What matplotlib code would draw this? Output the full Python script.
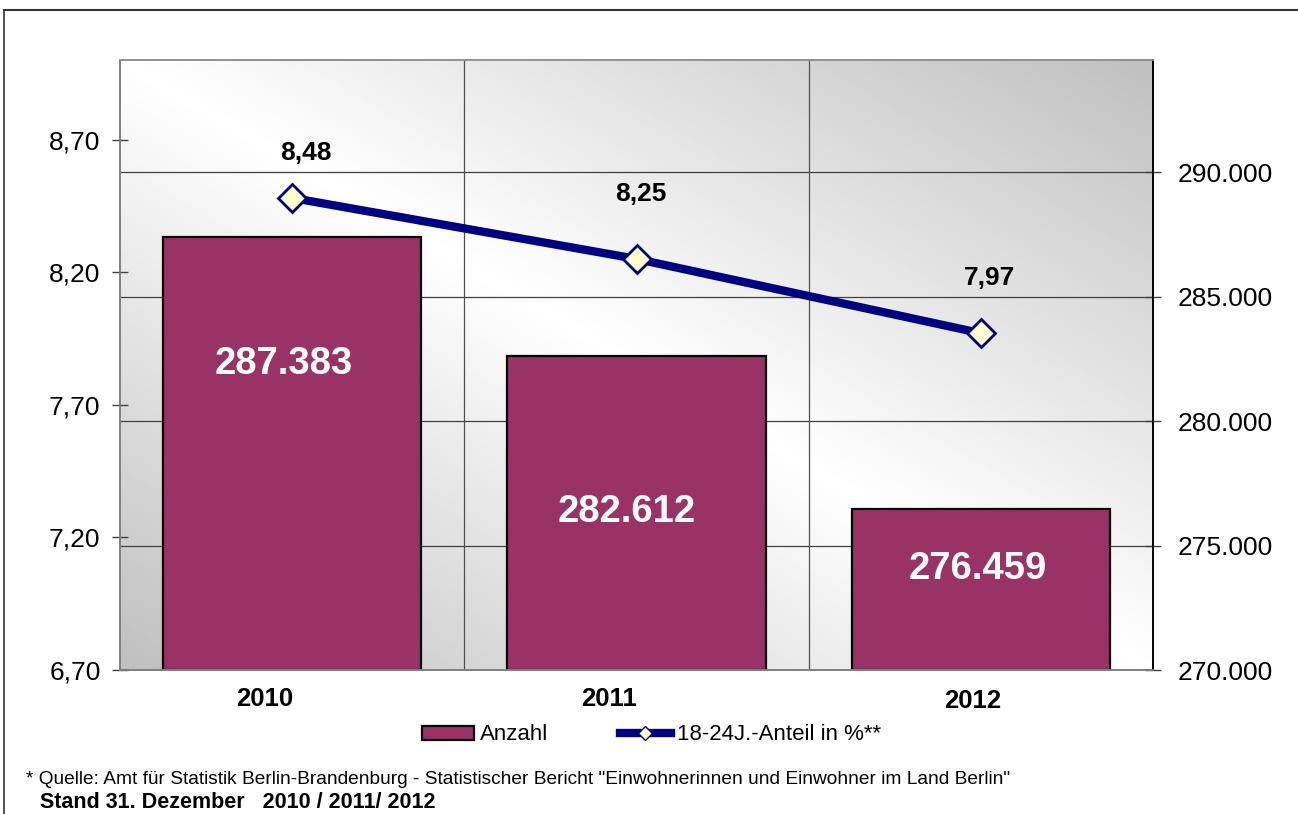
import matplotlib
matplotlib.use("Agg")
import matplotlib.pyplot as plt
import matplotlib.transforms as mtransforms
import numpy as np
from matplotlib.lines import Line2D
from matplotlib.patches import Patch

plt.rcParams["font.family"] = ["Liberation Sans", "DejaVu Sans"]

YEARS = ["2010", "2011", "2012"]
ANZAHL = [287383, 282612, 276459]
ANTEIL = [8.48, 8.25, 7.97]

LEFT_TICKS = [6.70, 7.20, 7.70, 8.20, 8.70]
RIGHT_TICKS = [270000, 275000, 280000, 285000, 290000]

BAR_COLOR = "#993366"
LINE_COLOR = "#000080"
MARKER_FACE = "#FFFFCC"

# where the white numbers sit inside each bar (fraction of bar height, x shift in pt)
BAR_LABEL_FRAC = [0.706, 0.503, 0.625]
BAR_LABEL_DX = [-6, -7, -2]
# offsets of the line labels from the markers (points)
LINE_LABEL_DX = [10, 3, 6]
LINE_LABEL_DY = [32, 47, 40]
# the category labels are not quite centred in the original (points)
CAT_LABEL_DX = [-20, -20, -6]
CAT_LABEL_DY = [0, 0, -2]


def de_int(v):
    return f"{v:,.0f}".replace(",", ".")


def de_dec(v):
    return f"{v:.2f}".replace(".", ",")


fig = plt.figure(figsize=(12.98, 8.14), dpi=100)
fig.set_facecolor("white")

ax = fig.add_axes([120 / 1298, 144 / 814, 1033 / 1298, 610 / 814])
ax2 = ax.twinx()

# diagonal grey gradient behind the plot
gx, gy = np.meshgrid(np.linspace(0, 1, 300), np.linspace(0, 1, 300))
shade = 1 - 0.25 * np.abs(gx + gy - 1)
ax.imshow(shade, cmap="gray", vmin=0, vmax=1, extent=[0, 1, 0, 1],
          transform=ax.transAxes, origin="lower", aspect="auto",
          interpolation="bilinear", zorder=0)

x = np.arange(len(YEARS))
ymin = 270000
ax.bar(x, np.array(ANZAHL) - ymin, bottom=ymin, width=0.75, color=BAR_COLOR,
       edgecolor="black", linewidth=1.6, zorder=2)
for xi, v, f, dx in zip(x, ANZAHL, BAR_LABEL_FRAC, BAR_LABEL_DX):
    ax.annotate(de_int(v), (xi, ymin + (v - ymin) * f), xytext=(dx, 0),
                textcoords="offset points", ha="center", va="center",
                color="white", fontsize=27.5, fontweight="bold", zorder=3)

ax.set_xlim(-0.5, 2.5)
ax.set_ylim(270000, 294500)
ax.set_axisbelow(True)
ax.yaxis.grid(True, color="#404040", linewidth=0.9)
for b in [0.5, 1.5]:
    ax.axvline(b, color="#505050", linewidth=0.9, zorder=0.6)

ax.yaxis.tick_right()
ax.set_yticks(RIGHT_TICKS)
ax.set_yticklabels([de_int(t) for t in RIGHT_TICKS], fontsize=19)
ax.tick_params(axis="y", direction="inout", length=12, width=1, pad=12,
               color="#404040")
ax.set_xticks(x)
ax.set_xticklabels(YEARS, fontsize=18.5, fontweight="bold")
ax.tick_params(axis="x", length=0, pad=12)
for lab, dx, dy in zip(ax.get_xticklabels(), CAT_LABEL_DX, CAT_LABEL_DY):
    lab.set_transform(lab.get_transform() +
                      mtransforms.ScaledTranslation(dx / 72, dy / 72, fig.dpi_scale_trans))

ax2.plot(x, ANTEIL, color=LINE_COLOR, linewidth=6, marker="D", markersize=14,
         markerfacecolor=MARKER_FACE, markeredgecolor=LINE_COLOR,
         markeredgewidth=2, zorder=4)
for xi, v, dx, dy in zip(x, ANTEIL, LINE_LABEL_DX, LINE_LABEL_DY):
    ax2.annotate(de_dec(v), (xi, v), xytext=(dx, dy), textcoords="offset points",
                 ha="center", va="center", fontsize=19, fontweight="bold")
ax2.set_ylim(6.70, 9.00)
ax2.yaxis.tick_left()
ax2.set_yticks(LEFT_TICKS)
ax2.set_yticklabels([de_dec(t) for t in LEFT_TICKS], fontsize=19)
ax2.tick_params(axis="y", direction="inout", length=12, width=1, pad=8,
                color="#404040")
ax2.patch.set_visible(False)

for a in (ax, ax2):
    a.spines["left"].set_color("#808080")
    a.spines["top"].set_color("#909090")
    a.spines["bottom"].set_color("#808080")
    a.spines["right"].set_color("black")
    for s in a.spines.values():
        s.set_linewidth(1.2)

handles = [
    Patch(facecolor=BAR_COLOR, edgecolor="black", linewidth=1.6, label="Anzahl"),
    Line2D([], [], color=LINE_COLOR, linewidth=6, marker="D", markersize=7,
           markerfacecolor=MARKER_FACE, markeredgecolor=LINE_COLOR,
           label="18-24J.-Anteil in %**"),
]
fig.legend(handles=handles, loc="center", bbox_to_anchor=(652 / 1298, 1 - 735 / 814),
           ncol=2, frameon=False, fontsize=16, handlelength=2.3, handleheight=0.6,
           handletextpad=0.3, columnspacing=3.2)

fig.text(26 / 1298, 1 - 779 / 814,
         '* Quelle: Amt für Statistik Berlin-Brandenburg - Statistischer Bericht '
         '"Einwohnerinnen und Einwohner im Land Berlin"',
         fontsize=13.8, va="center", ha="left")
fig.text(40 / 1298, 1 - 803 / 814, "Stand 31. Dezember   2010 / 2011/ 2012",
         fontsize=15.5, fontweight="bold", va="center", ha="left")

# outer frame of the chart object
fig.add_artist(Line2D([4 / 1298, 1], [1 - 10 / 814, 1 - 10 / 814],
                      transform=fig.transFigure, color="#333333", linewidth=1.5))
fig.add_artist(Line2D([4 / 1298, 4 / 1298], [0, 1 - 10 / 814],
                      transform=fig.transFigure, color="#333333", linewidth=1.2))

fig.savefig("out.png", dpi=100)
